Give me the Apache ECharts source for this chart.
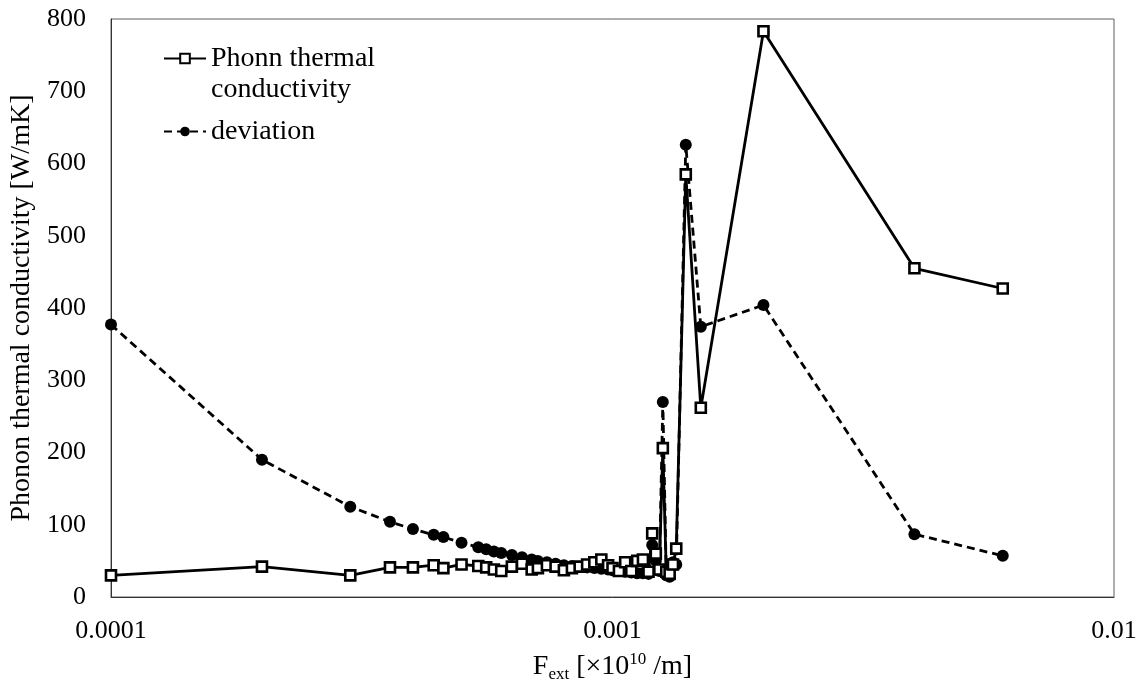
<!DOCTYPE html>
<html>
<head>
<meta charset="utf-8">
<script src="https://cdn.jsdelivr.net/npm/echarts@6/dist/echarts.min.js"></script>
<style>
  html, body { margin: 0; padding: 0; background: #fff; }
  #chart { width: 1145px; height: 688px; }
</style>
</head>
<body>
<div id="chart"></div>
<script>
// External force values (x axis, log scale)
const forceValues = [
  0.0001, 0.0002, 0.0003, 0.00036, 0.0004, 0.00044, 0.00046, 0.0005, 0.00054, 0.00056,
  0.00058, 0.0006, 0.00063, 0.00066, 0.00069, 0.00071, 0.00074, 0.00077, 0.0008, 0.00083,
  0.00086, 0.00089, 0.00092, 0.00095, 0.00098, 0.001, 0.00103, 0.00106, 0.00109, 0.00112,
  0.00115, 0.00118, 0.0012, 0.00122, 0.00124, 0.00126, 0.00128, 0.0013, 0.00132, 0.00134,
  0.0014, 0.0015, 0.002, 0.004, 0.006
];

// Phonon thermal conductivity [W/mK]
const conductivity = [
  30, 42, 30, 41, 41, 44, 40, 45, 43, 41,
  38, 36, 42, 46, 38, 40, 44, 42, 37, 40,
  42, 45, 48, 52, 44, 40, 36, 48, 36, 50,
  52, 35, 88, 60, 38, 206, 35, 32, 45, 67,
  585, 262, 783, 455, 427
];

// Deviation [W/mK]
const deviation = [
  377, 190, 125, 104, 94, 86, 83, 75, 69, 66,
  63, 61, 58, 55, 52, 50, 48, 46, 44, 43,
  42, 41, 40, 39, 38, 37, 36, 35, 34, 33,
  33, 32, 72, 50, 36, 270, 30, 28, 48, 45,
  626, 374, 404, 87, 57
];

const seriesNames = ['Phonn thermal conductivity', 'deviation'];
const xTickLabels = { '0.0001': '0.0001', '0.001': '0.001', '0.01': '0.01' };

const FONT = 'Liberation Serif';
const pairs = (ys) => forceValues.map((x, i) => [x, ys[i]]);

const chart = echarts.init(document.getElementById('chart'), null, { renderer: 'canvas' });

chart.setOption({
  backgroundColor: '#ffffff',
  animation: false,
  textStyle: { fontFamily: FONT, color: '#000' },
  grid: {
    left: 111, right: 31, top: 19, bottom: 91,
    show: true, borderColor: '#5e5e5e', borderWidth: 1, backgroundColor: 'transparent'
  },
  legend: {
    orient: 'vertical',
    left: 163, top: 12,
    padding: 0,
    itemGap: 11,
    itemWidth: 42, itemHeight: 12,
    textStyle: { fontFamily: FONT, fontSize: 28, color: '#000', lineHeight: 31 },
    formatter: (name) => name === seriesNames[0] ? '\nPhonn thermal\nconductivity' : name,
    data: seriesNames
  },
  xAxis: {
    type: 'log',
    logBase: 10,
    min: 0.0001,
    max: 0.01,
    name: '{n|F}{sub|ext}{n| [×10}{sup|10}{n| /m]}',
    nameLocation: 'middle',
    nameGap: 54,
    nameTextStyle: {
      rich: {
        n: { fontFamily: FONT, fontSize: 28, color: '#000', lineHeight: 32 },
        sub: { fontFamily: FONT, fontSize: 17, color: '#000', lineHeight: 16, verticalAlign: 'bottom' },
        sup: { fontFamily: FONT, fontSize: 17, color: '#000', lineHeight: 16, verticalAlign: 'top' }
      }
    },
    axisLine: { show: true, lineStyle: { color: '#333', width: 1 } },
    axisTick: { show: false },
    minorTick: { show: false },
    splitLine: { show: false },
    axisLabel: {
      fontFamily: FONT, fontSize: 26, color: '#000', margin: 21,
      formatter: (v) => {
        const k = String(+v.toPrecision(6));
        return xTickLabels[k] !== undefined ? xTickLabels[k] : '';
      }
    }
  },
  yAxis: {
    type: 'value',
    min: 0,
    max: 800,
    interval: 100,
    name: 'Phonon thermal conductivity [W/mK]',
    nameLocation: 'middle',
    nameGap: 72,
    nameTextStyle: { fontFamily: FONT, fontSize: 28, color: '#000' },
    axisLine: { show: true, lineStyle: { color: '#333', width: 1 } },
    axisTick: { show: false },
    splitLine: { show: false },
    axisLabel: { fontFamily: FONT, fontSize: 26, color: '#000', margin: 25 }
  },
  series: [
    {
      name: seriesNames[0],
      type: 'line',
      data: pairs(conductivity),
      symbol: 'rect',
      symbolSize: 10,
      showAllSymbol: true,
      lineStyle: { color: '#000', width: 2.8, type: 'solid' },
      itemStyle: { color: '#fff', borderColor: '#000', borderWidth: 2.6 },
      z: 3
    },
    {
      name: seriesNames[1],
      type: 'line',
      data: pairs(deviation),
      symbol: 'circle',
      symbolSize: 12,
      showAllSymbol: true,
      lineStyle: { color: '#000', width: 2.8, type: [8, 5] },
      itemStyle: { color: '#000', borderColor: '#000', borderWidth: 0 },
      z: 2
    }
  ]
});
</script>
</body>
</html>
